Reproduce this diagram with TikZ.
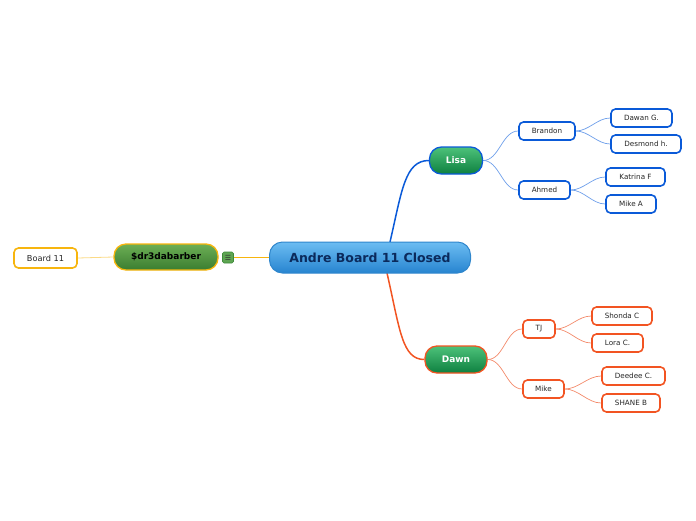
\documentclass[tikz,border=0pt]{standalone}
\usepackage{fontspec}
\setmainfont{DejaVu Sans}
\usetikzlibrary{backgrounds,calc}
\definecolor{mblue}{HTML}{0A5AD8}
\definecolor{morange}{HTML}{F25422}
\definecolor{lblue}{HTML}{6E9FEA}
\definecolor{lorange}{HTML}{F38A6A}
\definecolor{gtop}{HTML}{4DC27A}
\definecolor{gbot}{HTML}{0E8040}
\definecolor{myellow}{HTML}{F7B50E}
\definecolor{lyellow}{HTML}{FBDA86}
\definecolor{cborder}{HTML}{2F86CC}
\definecolor{ctop}{HTML}{6CBDF2}
\definecolor{cbot}{HTML}{2784D0}
\definecolor{cnavy}{HTML}{0B2A5C}
\definecolor{dtop}{HTML}{6DAF55}
\definecolor{dbot}{HTML}{3A7D30}
\definecolor{ibord}{HTML}{3E8A3A}
\definecolor{ifill}{HTML}{5EA552}
\begin{document}
\begin{tikzpicture}[x=1pt,y=-1pt,
  leaf/.style={draw,line width=1.6pt,rounded corners=4.5pt,fill=white,minimum height=18pt,inner sep=0pt,font=\fontsize{7.2}{8}\selectfont,text=black!85},
  bleaf/.style={leaf,draw=mblue},
  oleaf/.style={leaf,draw=morange},
  mainb/.style={draw,line width=1.3pt,rounded corners=12pt,inner sep=0pt,minimum height=27pt,top color=gtop,bottom color=gbot,font=\bfseries\fontsize{9}{10}\selectfont,text=white},
  bconn/.style={draw=lblue,line width=0.7pt},
  oconn/.style={draw=lorange,line width=0.7pt}]
\useasboundingbox (0,0) rectangle (696,520);
% central
\node[draw=cborder,line width=1pt,rounded corners=13pt,minimum width=201pt,minimum height=31pt,inner sep=0pt,top color=ctop,bottom color=cbot,font=\bfseries\fontsize{12.5}{14}\selectfont,text=cnavy] (c) at (370,257.5) {Andre Board 11 Closed};
% left
\node[draw=myellow,line width=1.3pt,rounded corners=12pt,minimum width=104pt,minimum height=26pt,inner sep=0pt,top color=dtop,bottom color=dbot,font=\bfseries\fontsize{9}{10}\selectfont,text=black] (d) at (166,257) {\$dr3dabarber};
\node[draw=ibord,line width=0.6pt,rounded corners=1.5pt,fill=ifill,minimum width=11pt,minimum height=11pt,inner sep=0pt,font=\fontsize{7}{7}\selectfont,text=black!80] (ic) at (228,257.5) {☰};
\node[leaf,draw=myellow,minimum width=63pt,minimum height=20pt,font=\fontsize{8.2}{9}\selectfont] (b11) at (45.5,258) {Board 11};
\fill[myellow] ($(ic.east)+(0,-0.6)$) rectangle ($(c.west)+(0,0.6)$);
% Lisa branch
\node[mainb,draw=mblue,minimum width=53pt] (lisa) at (456,160.5) {Lisa};
\node[bleaf,minimum width=56pt] (bran) at (547,131) {Brandon};
\node[bleaf,minimum width=51pt] (ahm) at (544.5,190) {Ahmed};
\node[bleaf,minimum width=61pt] (daw) at (641.5,118) {Dawan G.};
\node[bleaf,minimum width=70pt] (des) at (646,144) {Desmond h.};
\node[bleaf,minimum width=59pt] (kat) at (635.5,177) {Katrina F};
\node[bleaf,minimum width=50pt] (mka) at (631,204) {Mike A};
% Dawn branch
\node[mainb,draw=morange,minimum width=62pt] (dawn) at (456,359.5) {Dawn};
\node[oleaf,minimum width=32pt] (tj) at (539,329) {TJ};
\node[oleaf,minimum width=41pt] (mike) at (543.5,389) {Mike};
\node[oleaf,minimum width=60pt] (sho) at (622,316) {Shonda C};
\node[oleaf,minimum width=51pt] (lor) at (617.5,343) {Lora C.};
\node[oleaf,minimum width=63pt] (dee) at (633.5,376) {Deedee C.};
\node[oleaf,minimum width=58pt] (sha) at (631,403) {SHANE B};
% connectors
\begin{scope}[on background layer]
\coordinate (ctopc) at (390,242);
\coordinate (cbotc) at (387,273);
\draw[draw=mblue,line width=1.5pt] (ctopc) .. controls (402,190) and (405,160.5) .. (lisa.west);
\draw[draw=morange,line width=1.5pt] (cbotc) .. controls (400,330) and (402,359.5) .. (dawn.west);
\draw[lyellow,line width=0.8pt] (d.west) -- (b11.east);
\foreach \a/\b in {lisa/bran,lisa/ahm,bran/daw,bran/des,ahm/kat,ahm/mka}
  \draw[bconn] (\a.east) to[out=0,in=180,looseness=0.9] (\b.west);
\foreach \a/\b in {dawn/tj,dawn/mike,tj/sho,tj/lor,mike/dee,mike/sha}
  \draw[oconn] (\a.east) to[out=0,in=180,looseness=0.9] (\b.west);
\end{scope}
\end{tikzpicture}
\end{document}
